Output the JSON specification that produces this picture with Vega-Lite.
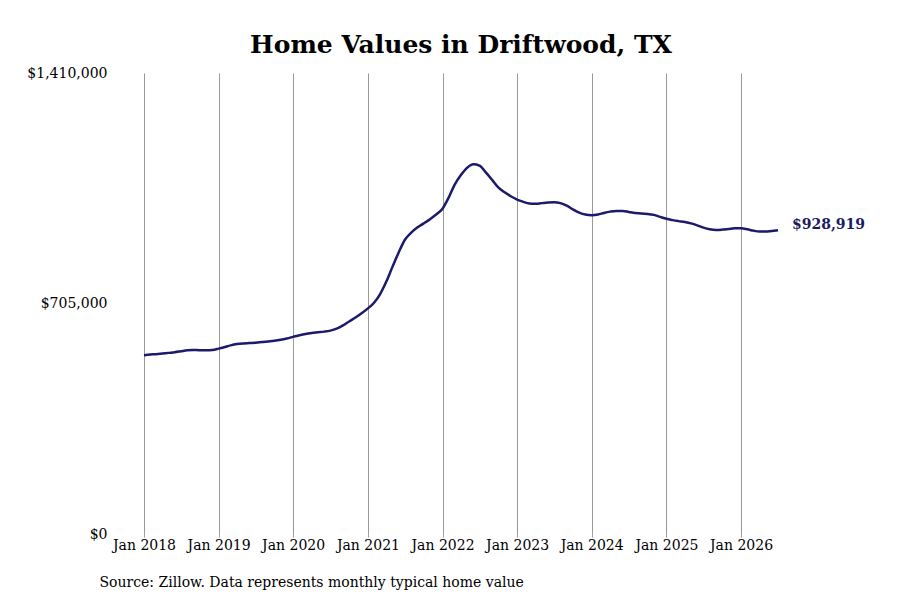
{
  "$schema": "https://vega.github.io/schema/vega-lite/v6.json",
  "width": 634,
  "height": 461,
  "autosize": "none",
  "padding": {"left": 144, "top": 73, "right": 122, "bottom": 66},
  "background": "white",
  "config": {
    "font": "DejaVu Serif",
    "view": {"stroke": null}
  },
  "title": {
    "text": "Home Values in Driftwood, TX",
    "font": "DejaVu Serif",
    "fontSize": 25,
    "fontWeight": "bold",
    "color": "#000000",
    "anchor": "middle",
    "offset": 8
  },
  "data": {
    "values": [
      {"date": "2018-01-01", "value": 547000}, {"date": "2018-02-01", "value": 549000}, {"date": "2018-03-01", "value": 550000},
      {"date": "2018-04-01", "value": 552000}, {"date": "2018-05-01", "value": 554000}, {"date": "2018-06-01", "value": 556000},
      {"date": "2018-07-01", "value": 559000}, {"date": "2018-08-01", "value": 562000}, {"date": "2018-09-01", "value": 563000},
      {"date": "2018-10-01", "value": 562000}, {"date": "2018-11-01", "value": 562000}, {"date": "2018-12-01", "value": 563000},
      {"date": "2019-01-01", "value": 567000}, {"date": "2019-02-01", "value": 572000}, {"date": "2019-03-01", "value": 577000},
      {"date": "2019-04-01", "value": 581000}, {"date": "2019-05-01", "value": 583000}, {"date": "2019-06-01", "value": 584000},
      {"date": "2019-07-01", "value": 585000}, {"date": "2019-08-01", "value": 587000}, {"date": "2019-09-01", "value": 589000},
      {"date": "2019-10-01", "value": 591000}, {"date": "2019-11-01", "value": 594000}, {"date": "2019-12-01", "value": 598000},
      {"date": "2020-01-01", "value": 603000}, {"date": "2020-02-01", "value": 608000}, {"date": "2020-03-01", "value": 612000},
      {"date": "2020-04-01", "value": 615000}, {"date": "2020-05-01", "value": 617000}, {"date": "2020-06-01", "value": 619000},
      {"date": "2020-07-01", "value": 622000}, {"date": "2020-08-01", "value": 628000}, {"date": "2020-09-01", "value": 638000},
      {"date": "2020-10-01", "value": 650000}, {"date": "2020-11-01", "value": 662000}, {"date": "2020-12-01", "value": 675000},
      {"date": "2021-01-01", "value": 690000}, {"date": "2021-02-01", "value": 708000}, {"date": "2021-03-01", "value": 733000},
      {"date": "2021-04-01", "value": 772000}, {"date": "2021-05-01", "value": 817000}, {"date": "2021-06-01", "value": 862000},
      {"date": "2021-07-01", "value": 900000}, {"date": "2021-08-01", "value": 922000}, {"date": "2021-09-01", "value": 938000},
      {"date": "2021-10-01", "value": 950000}, {"date": "2021-11-01", "value": 963000}, {"date": "2021-12-01", "value": 977000},
      {"date": "2022-01-01", "value": 995000}, {"date": "2022-02-01", "value": 1030000}, {"date": "2022-03-01", "value": 1068000},
      {"date": "2022-04-01", "value": 1098000}, {"date": "2022-05-01", "value": 1120000}, {"date": "2022-06-01", "value": 1131000},
      {"date": "2022-07-01", "value": 1127000}, {"date": "2022-08-01", "value": 1106000}, {"date": "2022-09-01", "value": 1083000},
      {"date": "2022-10-01", "value": 1060000}, {"date": "2022-11-01", "value": 1045000}, {"date": "2022-12-01", "value": 1033000},
      {"date": "2023-01-01", "value": 1023000}, {"date": "2023-02-01", "value": 1016000}, {"date": "2023-03-01", "value": 1011000},
      {"date": "2023-04-01", "value": 1010000}, {"date": "2023-05-01", "value": 1012000}, {"date": "2023-06-01", "value": 1014000},
      {"date": "2023-07-01", "value": 1015000}, {"date": "2023-08-01", "value": 1012000}, {"date": "2023-09-01", "value": 1004000},
      {"date": "2023-10-01", "value": 993000}, {"date": "2023-11-01", "value": 983000}, {"date": "2023-12-01", "value": 977000},
      {"date": "2024-01-01", "value": 975000}, {"date": "2024-02-01", "value": 977000}, {"date": "2024-03-01", "value": 982000},
      {"date": "2024-04-01", "value": 986000}, {"date": "2024-05-01", "value": 988000}, {"date": "2024-06-01", "value": 988000},
      {"date": "2024-07-01", "value": 985000}, {"date": "2024-08-01", "value": 982000}, {"date": "2024-09-01", "value": 980000},
      {"date": "2024-10-01", "value": 979000}, {"date": "2024-11-01", "value": 976000}, {"date": "2024-12-01", "value": 970000},
      {"date": "2025-01-01", "value": 964000}, {"date": "2025-02-01", "value": 960000}, {"date": "2025-03-01", "value": 957000},
      {"date": "2025-04-01", "value": 954000}, {"date": "2025-05-01", "value": 950000}, {"date": "2025-06-01", "value": 944000},
      {"date": "2025-07-01", "value": 937000}, {"date": "2025-08-01", "value": 932000}, {"date": "2025-09-01", "value": 930000},
      {"date": "2025-10-01", "value": 931000}, {"date": "2025-11-01", "value": 933000}, {"date": "2025-12-01", "value": 935000},
      {"date": "2026-01-01", "value": 935000}, {"date": "2026-02-01", "value": 932000}, {"date": "2026-03-01", "value": 928000},
      {"date": "2026-04-01", "value": 925000}, {"date": "2026-05-01", "value": 925000}, {"date": "2026-06-01", "value": 927000},
      {"date": "2026-07-01", "value": 928919}
    ]
  },
  "encoding": {
    "x": {
      "field": "date",
      "type": "temporal",
      "scale": {"domain": ["2018-01-01", "2026-07-01"], "nice": false},
      "axis": {
        "title": "Source: Zillow. Data represents monthly typical home value",
        "titleFont": "DejaVu Serif",
        "titleFontSize": 14,
        "titleFontWeight": "normal",
        "titleColor": "#000000",
        "titleAnchor": "start",
        "titleAlign": "left",
        "titleBaseline": "middle",
        "titleX": -45,
        "titleY": 48,
        "format": "%b %Y",
        "tickCount": {"interval": "year", "step": 1},
        "labelFont": "DejaVu Serif",
        "labelFontSize": 14,
        "labelColor": "#000000",
        "labelPadding": 1,
        "labelOverlap": false,
        "labelFlush": false,
        "domain": false,
        "ticks": true,
        "tickSize": 3,
        "tickColor": "#999999",
        "grid": true,
        "gridColor": "#999999",
        "gridWidth": 1,
        "gridOpacity": 1
      }
    },
    "y": {
      "field": "value",
      "type": "quantitative",
      "scale": {"domain": [0, 1410000], "nice": false, "zero": true},
      "axis": {
        "title": null,
        "values": [0, 705000, 1410000],
        "format": "$,.0f",
        "labelFont": "DejaVu Serif",
        "labelFontSize": 14,
        "labelColor": "#000000",
        "labelPadding": 37,
        "labelFlush": false,
        "domain": false,
        "ticks": false,
        "grid": false
      }
    }
  },
  "layer": [
    {
      "mark": {"type": "line", "color": "#1b1a6b", "strokeWidth": 2.5, "interpolate": "monotone"}
    },
    {
      "transform": [{"filter": "datum.value == 928919"}],
      "mark": {
        "type": "text",
        "align": "left",
        "baseline": "middle",
        "dx": 14,
        "dy": -5,
        "font": "DejaVu Serif",
        "fontSize": 14,
        "fontWeight": "bold",
        "color": "#1b1a5e"
      },
      "encoding": {
        "text": {"field": "value", "type": "quantitative", "format": "$,.0f"}
      }
    }
  ]
}
